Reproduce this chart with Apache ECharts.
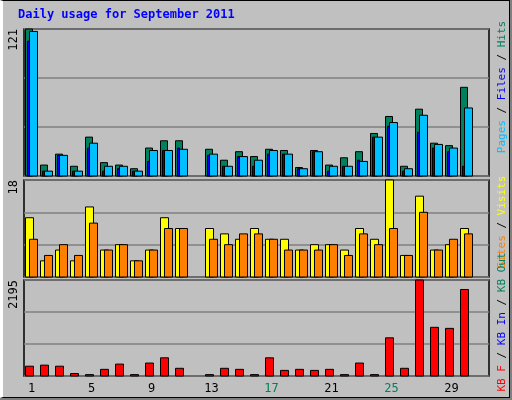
<!DOCTYPE html>
<html>
<head>
<meta charset="utf-8">
<script src="https://cdn.jsdelivr.net/npm/echarts@6/dist/echarts.min.js"></script>
<style>
  html, body { margin: 0; padding: 0; background: #C0C0C0; }
  #frame { position: absolute; left: 0; top: 0; width: 510px; height: 398px; border: 1px solid #000;
    background: #C0C0C0; box-sizing: border-box; }
  #shadow { position: absolute; left: 0; top: 0; width: 512px; height: 400px; background: #808080; }
  #main { position: absolute; left: 0; top: 0; width: 512px; height: 400px; }
</style>
</head>
<body>
<div id="shadow"></div>
<div id="frame" style="border-left:3px solid #fff;border-top:1px solid #000;"></div>
<div id="main"></div>
<script>
const days = ['1','2','3','4','5','6','7','8','9','10','11','12','13','14','15','16',
  '17','18','19','20','21','22','23','24','25','26','27','28','29','30','31'];
const weekends = ['3','4','10','11','17','18','24','25','31'];

const hits  = [121, 9, 18, 8, 32, 11, 9, 6, 23, 29, 29, 0, 22, 13, 20, 16, 22, 21, 7, 21, 9, 15, 20, 35, 49, 8, 55, 27, 25, 73, 0];
const files = [119, 4, 17, 4, 27, 8, 8, 4, 21, 21, 22, 0, 18, 8, 16, 13, 21, 18, 6, 20, 8, 8, 12, 32, 44, 6, 50, 26, 23, 56, 0];
const pages = [111, 4, 17, 4, 23, 4, 6, 4, 12, 21, 23, 0, 17, 8, 16, 8, 18, 18, 6, 20, 4, 8, 13, 32, 41, 4, 36, 23, 20, 8, 0];
const visits = [11, 3, 5, 3, 13, 5, 6, 3, 5, 11, 9, 0, 9, 8, 7, 9, 7, 7, 5, 6, 6, 5, 9, 7, 18, 4, 15, 5, 6, 9, 0];
const sites  = [7, 4, 6, 4, 10, 5, 6, 3, 5, 9, 9, 0, 7, 6, 8, 8, 7, 5, 5, 5, 6, 4, 8, 6, 9, 4, 12, 5, 7, 8, 0];
const kbytes = [224, 248, 224, 56, 32, 152, 272, 32, 296, 416, 176, 0, 32, 176, 152, 32, 416, 128, 152, 128, 152, 32, 296, 32, 873, 176, 2195, 1113, 1089, 1978, 0];

const maxHits = 121, maxVisits = 18, maxKB = 2195;

// one rect per day, shifted inside the day's slot
function barSeries(data, grid, color, dx, w, z) {
  return {
    type: 'custom', xAxisIndex: grid, yAxisIndex: grid, z: z,
    data: data.map((v, i) => [i, v]),
    renderItem: (params, api) => {
      const v = api.value(1);
      if (!v) return null;
      const top = api.coord([api.value(0), v]);
      const base = api.coord([api.value(0), 0]);
      return {
        type: 'rect',
        shape: { x: top[0] + dx, y: top[1], width: w, height: Math.max(base[1] - top[1], 1) },
        style: { fill: color, stroke: '#000', lineWidth: 1 }
      };
    }
  };
}

const grids = [
  { left: 24, width: 465, top: 29, height: 147 },
  { left: 24, width: 465, top: 180, height: 97 },
  { left: 24, width: 465, top: 280, height: 96 }
].map(g => Object.assign(g, { show: true, borderColor: '#000', borderWidth: 1.5, backgroundColor: 'transparent' }));

const maxes = [maxHits, maxVisits, maxKB];

const xAxis = grids.map((g, i) => ({
  type: 'category', gridIndex: i, data: days, boundaryGap: true,
  axisLine: { show: false }, axisTick: { show: false },
  axisLabel: i < 2 ? { show: false } : {
    margin: 7, fontFamily: 'DejaVu Sans Mono', fontSize: 12, color: '#000',
    formatter: d => weekends.includes(d) ? '{w|' + d + '}' : d,
    rich: { w: { color: '#00805C', fontFamily: 'DejaVu Sans Mono', fontSize: 12 } }
  }
}));

const yAxis = maxes.map((m, i) => ({
  type: 'value', gridIndex: i, min: 0, max: m, interval: m / 3,
  axisLabel: { show: false }, axisLine: { show: false }, axisTick: { show: false },
  splitLine: { lineStyle: { color: '#808080', width: 1.5 } }
}));

const mono = 'DejaVu Sans Mono';
function sideText(x, y, rich, text) {
  return { type: 'text', x: x, y: y, rotation: Math.PI / 2,
    style: { text: text, rich: rich, fontFamily: mono, fontSize: 11, align: 'center', verticalAlign: 'middle', fill: '#000' } };
}
const rs = { fontFamily: mono, fontSize: 11 };

const chart = echarts.init(document.getElementById('main'));
chart.setOption({
  animation: false,
  grid: grids,
  xAxis: xAxis,
  yAxis: yAxis,
  series: [
    barSeries(hits, 0, '#00805C', -6, 7, 2),
    barSeries(files, 0, '#00C0FF', -2, 8, 3),
    barSeries(pages, 0, '#0000FF', -4, 2, 4),
    barSeries(visits, 1, '#FFFF00', -6, 8, 2),
    barSeries(sites, 1, '#FF8000', -2, 8, 3),
    barSeries(kbytes, 2, '#FF0000', -6, 8, 2)
  ],
  graphic: [
    { type: 'text', x: 18, y: 9, style: { text: 'Daily usage for September 2011', fontFamily: mono, fontSize: 12, fontWeight: 'bold', fill: '#0000FF' } },
    { type: 'text', x: 14, y: 29, rotation: Math.PI / 2, style: { text: '121', fontFamily: mono, fontSize: 12, fill: '#000', align: 'right', verticalAlign: 'middle' } },
    { type: 'text', x: 14, y: 180, rotation: Math.PI / 2, style: { text: '18', fontFamily: mono, fontSize: 12, fill: '#000', align: 'right', verticalAlign: 'middle' } },
    { type: 'text', x: 14, y: 280, rotation: Math.PI / 2, style: { text: '2195', fontFamily: mono, fontSize: 12, fill: '#000', align: 'right', verticalAlign: 'middle' } },
    sideText(502, 87, { p: Object.assign({ fill: '#00C0FF' }, rs), f: Object.assign({ fill: '#0000FF' }, rs), h: Object.assign({ fill: '#00805C' }, rs) },
      '{p|Pages} / {f|Files} / {h|Hits}'),
    sideText(502, 222, { s: Object.assign({ fill: '#FF8000' }, rs), v: Object.assign({ fill: '#FFFF00' }, rs) },
      '{s|Sites} / {v|Visits}'),
    sideText(502, 322, { a: Object.assign({ fill: '#FF0000' }, rs), b: Object.assign({ fill: '#0000FF' }, rs), c: Object.assign({ fill: '#00805C' }, rs) },
      '{a|KB F} / {b|KB In} / {c|KB Out}')
  ]
});
</script>
</body>
</html>
